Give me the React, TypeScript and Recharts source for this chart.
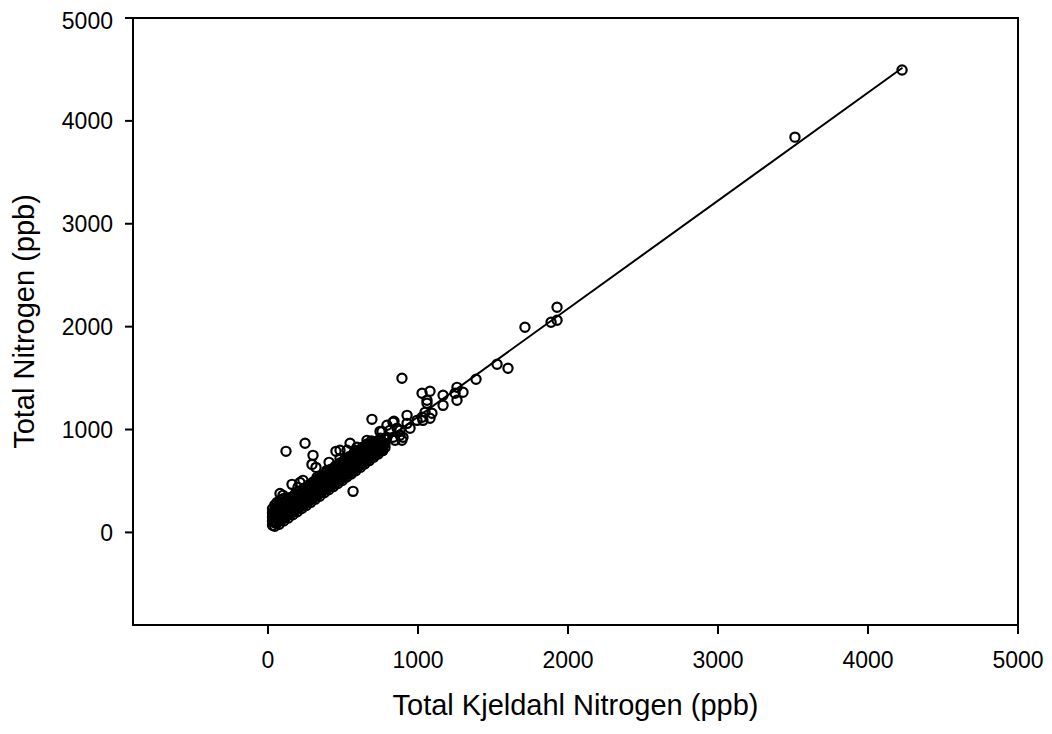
import React from 'react';
import { ScatterChart, Scatter, XAxis, YAxis, ReferenceLine, ReferenceArea } from 'recharts';

// Axis settings
const axisMin = -900;
const axisMax = 5000;
const xTicks = [0, 1000, 2000, 3000, 4000, 5000];
const yTicks = [0, 1000, 2000, 3000, 4000, 5000];

// [TKN, TN] pairs in ppb – dense low-concentration cluster
const clusterPoints: [number, number][] = [
  [30, 70], [30, 110], [30, 150], [30, 190], [30, 230],
  [45, 60], [45, 95], [45, 140], [45, 180], [45, 220], [45, 265],
  [60, 90], [60, 130], [60, 170], [60, 210], [60, 250], [60, 290],
  [75, 80], [75, 120], [75, 165], [75, 205], [75, 250], [75, 300],
  [90, 120], [90, 160], [90, 200], [90, 240], [90, 280], [90, 320],
  [105, 112], [105, 150], [105, 195], [105, 235], [105, 280], [105, 330],
  [120, 150], [120, 190], [120, 230], [120, 270], [120, 310],
  [135, 140], [135, 185], [135, 225], [135, 265], [135, 310],
  [150, 180], [150, 220], [150, 260], [150, 300], [150, 340],
  [165, 172], [165, 215], [165, 255], [165, 295], [165, 340],
  [180, 210], [180, 250], [180, 290], [180, 330], [180, 370],
  [195, 200], [195, 245], [195, 285], [195, 325], [195, 370],
  [210, 240], [210, 280], [210, 320], [210, 360], [210, 400],
  [225, 232], [225, 275], [225, 315], [225, 355], [225, 395],
  [240, 270], [240, 310], [240, 350], [240, 390], [240, 430],
  [255, 262], [255, 305], [255, 345], [255, 385], [255, 425],
  [270, 300], [270, 340], [270, 380], [270, 420], [270, 460],
  [285, 292], [285, 335], [285, 375], [285, 415], [285, 460],
  [300, 330], [300, 370], [300, 410], [300, 450], [300, 490],
  [315, 322], [315, 365], [315, 405], [315, 445], [315, 490],
  [330, 360], [330, 400], [330, 440], [330, 480], [330, 520],
  [345, 352], [345, 395], [345, 435], [345, 475], [345, 520],
  [360, 390], [360, 430], [360, 470], [360, 510], [360, 550],
  [375, 385], [375, 425], [375, 465], [375, 505], [375, 550],
  [390, 420], [390, 460], [390, 500], [390, 540], [390, 585],
  [405, 415], [405, 455], [405, 495], [405, 535], [405, 580],
  [420, 450], [420, 490], [420, 530], [420, 570], [420, 615],
  [435, 445], [435, 485], [435, 525], [435, 565], [435, 610],
  [450, 480], [450, 520], [450, 560], [450, 600], [450, 645],
  [465, 475], [465, 515], [465, 555], [465, 595], [465, 640],
  [480, 510], [480, 550], [480, 590], [480, 630], [480, 675],
  [495, 505], [495, 545], [495, 585], [495, 625], [495, 670],
  [510, 540], [510, 580], [510, 620], [510, 660], [510, 705],
  [525, 538], [525, 578], [525, 618], [525, 658], [525, 700],
  [540, 572], [540, 612], [540, 652], [540, 692], [540, 735],
  [555, 568], [555, 608], [555, 648], [555, 688], [555, 730],
  [570, 602], [570, 642], [570, 682], [570, 722], [570, 765],
  [585, 600], [585, 640], [585, 680], [585, 720], [585, 765],
  [600, 635], [600, 675], [600, 715], [600, 755], [600, 795],
  [615, 632], [615, 672], [615, 712], [615, 752], [615, 795],
  [630, 665], [630, 705], [630, 745], [630, 785], [630, 828],
  [645, 665], [645, 705], [645, 745], [645, 785], [645, 825],
  [660, 698], [660, 738], [660, 778], [660, 818], [660, 860],
  [675, 698], [675, 738], [675, 778], [675, 818], [675, 858],
  [690, 730], [690, 770], [690, 810], [690, 850], [690, 890],
  [705, 730], [705, 770], [705, 810], [705, 850],
  [720, 762], [720, 802], [720, 842], [720, 882],
  [735, 762], [735, 802], [735, 842], [735, 885],
  [750, 795], [750, 835], [750, 875], [750, 915],
  [765, 795], [765, 835], [765, 875],
  [780, 825], [780, 865], [780, 905],
];

// Scattered points along the edges of the cluster
const edgePoints: [number, number][] = [
  [80, 379], [100, 360], [127, 330], [200, 438], [233, 506], [213, 486],
  [327, 535], [393, 603], [480, 720], [527, 798], [480, 798], [580, 798],
  [593, 827], [660, 895], [700, 875], [747, 982], [760, 982], [793, 1041],
  [813, 992], [793, 924], [833, 924], [847, 895], [860, 1012], [880, 944],
  [880, 992], [893, 895], [900, 924], [927, 1060], [947, 1012], [833, 1070],
  [840, 1080], [993, 1089], [1033, 1089], [1027, 1119], [1047, 1167],
  [1080, 1109], [1093, 1158],
];

// Outliers and higher values
const outlierPoints: [number, number][] = [
  [120, 788], [247, 866], [300, 749], [293, 661], [320, 632], [407, 681],
  [453, 788], [547, 866], [567, 399], [160, 467], [693, 1099], [893, 1498],
  [927, 1138], [1027, 1352], [1080, 1372], [1060, 1284], [1060, 1255],
  [1167, 1333], [1167, 1235], [1247, 1352], [1260, 1410], [1300, 1362],
  [1260, 1284], [1387, 1488], [1527, 1634], [1600, 1595],
];

const highPoints: [number, number][] = [
  [1713, 1994], [1887, 2043], [1927, 2189], [1927, 2062], [3513, 3842], [4227, 4494],
];

// Regression line end points
const regressionLine: [number, number][] = [
  [40, 117],
  [4230, 4516],
];

const allPoints = [...clusterPoints, ...edgePoints, ...outlierPoints, ...highPoints].map(
  ([tkn, tn]) => ({ tkn, tn })
);

const FONT = "'Liberation Sans', Arial, sans-serif";

const OpenCircle = (props: any) => {
  const { cx, cy } = props;
  if (cx == null || cy == null) return null;
  return <circle cx={cx} cy={cy} r={4.6} fill="none" stroke="#000" strokeWidth={2.2} />;
};

const XTitle = (props: any) => {
  const vb = props.viewBox || {};
  return (
    <text
      x={vb.x + vb.width / 2}
      y={vb.y + 90}
      textAnchor="middle"
      fontFamily={FONT}
      fontSize={29}
      fill="#000"
    >
      Total Kjeldahl Nitrogen (ppb)
    </text>
  );
};

const YTitle = (props: any) => {
  const vb = props.viewBox || {};
  const x = 26;
  const y = vb.y + vb.height / 2;
  return (
    <text
      x={x}
      y={y}
      textAnchor="middle"
      fontFamily={FONT}
      fontSize={29}
      fill="#000"
      transform={`rotate(-90, ${x}, ${y})`}
    >
      Total Nitrogen (ppb)
    </text>
  );
};

export default function App() {
  return (
    <div style={{ width: 1036, height: 718, background: '#fff' }}>
      <ScatterChart
        width={1036}
        height={718}
        margin={{ top: 10, right: 26, bottom: 0, left: 0 }}
      >
        <XAxis
          type="number"
          dataKey="tkn"
          domain={[axisMin, axisMax]}
          ticks={xTicks}
          allowDataOverflow
          height={101}
          stroke="#000"
          axisLine={{ stroke: '#000', strokeWidth: 2 }}
          tickLine={{ stroke: '#000', strokeWidth: 2 }}
          tickSize={9}
          tickMargin={18}
          tick={{ fill: '#000', fontSize: 23, fontFamily: FONT }}
          label={{ content: XTitle }}
        />
        <YAxis
          type="number"
          dataKey="tn"
          domain={[axisMin, axisMax]}
          ticks={yTicks}
          allowDataOverflow
          width={125}
          stroke="#000"
          axisLine={{ stroke: '#000', strokeWidth: 2 }}
          tickLine={{ stroke: '#000', strokeWidth: 2 }}
          tickSize={8}
          tickMargin={12}
          tick={{ fill: '#000', fontSize: 23, fontFamily: FONT }}
          label={{ content: YTitle }}
        />
        <ReferenceArea
          x1={axisMin}
          x2={axisMax}
          y1={axisMin}
          y2={axisMax}
          fill="none"
          stroke="#000"
          strokeWidth={2}
          ifOverflow="visible"
        />
        <ReferenceLine
          segment={regressionLine.map(([x, y]) => ({ x, y }))}
          stroke="#000"
          strokeWidth={2}
        />
        <Scatter data={allPoints} shape={OpenCircle} isAnimationActive={false} />
      </ScatterChart>
    </div>
  );
}
